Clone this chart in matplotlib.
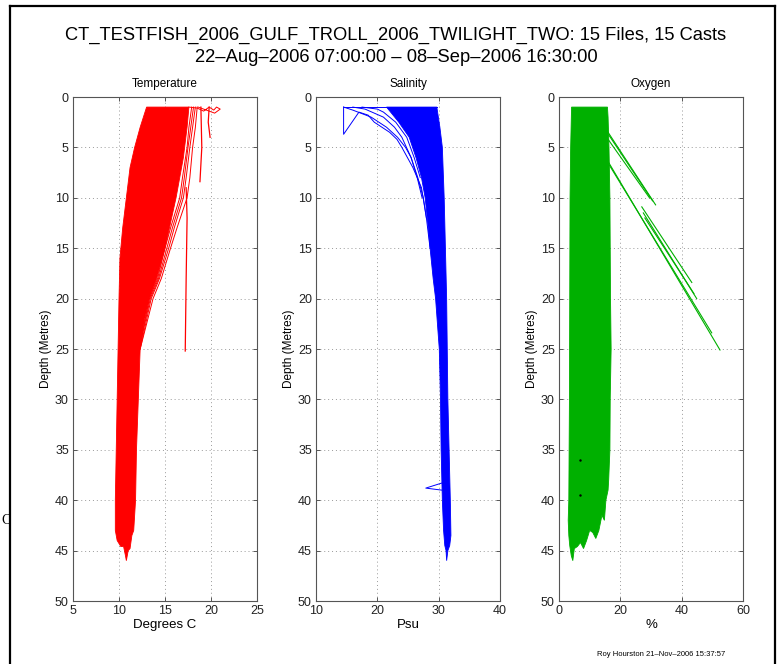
import matplotlib
matplotlib.use("Agg")
import matplotlib.pyplot as plt
from matplotlib.lines import Line2D

plt.rcParams['font.family'] = ['Liberation Sans', 'DejaVu Sans']

# ---- data ----
title1 = "CT_TESTFISH_2006_GULF_TROLL_2006_TWILIGHT_TWO: 15 Files, 15 Casts"
title2 = "22\u2013Aug\u20132006 07:00:00 \u2013 08\u2013Sep\u20132006 16:30:00"
footer = "Roy Hourston 21\u2013Nov\u20132006 15:37:57"
depth_ticks = [0, 5, 10, 15, 20, 25, 30, 35, 40, 45, 50]

# temperature: outline of the dense bundle (x = deg C, y = depth)
temp_core_x = [13.0, 12.3, 11.7, 11.2, 10.8, 10.4, 10.1, 10.0, 9.9, 9.8, 9.7, 9.6, 9.6, 9.8, 10.2,
               10.5, 10.7, 10.8, 11.0, 11.2, 11.4, 11.6, 11.8, 11.9, 12.1, 12.3, 12.8, 13.3,
               14.1, 15.0, 16.2, 17.0, 17.4, 17.6]
temp_core_y = [1.0, 3, 5, 7, 10, 13, 16, 20, 25, 30, 35, 40, 43, 44, 44.6,
               44.6, 45.5, 46.0, 45.0, 44.8, 43.5, 43.0, 40, 35, 30, 25, 22, 20,
               18, 15, 10, 6, 3, 1.0]
temp_strand_depth = [1, 3, 5, 8, 10, 13, 15, 18, 20, 25]
temp_strands = [
    [18.5, 18.3, 18.0, 17.7, 17.4, 16.3, 15.6, 14.6, 13.7, 12.3],
    [18.3, 18.0, 17.7, 17.3, 17.0, 16.0, 15.4, 14.4, 13.5, 12.3],
    [18.1, 17.8, 17.5, 17.1, 16.8, 15.8, 15.2, 14.3, 13.4, 12.2],
    [17.9, 17.6, 17.4, 16.9, 16.6, 15.6, 15.0, 14.2, 13.3, 12.2],
]
temp_top_x = [17.6, 18.5, 19.2, 19.8, 20.3, 20.6, 21.0, 20.4, 19.5, 18.6]
temp_top_y = [1.0, 1.1, 1.4, 1.0, 1.3, 1.0, 1.2, 1.6, 1.3, 1.0]
temp_spike_x = [[17.3, 17.4, 17.3, 17.2], [18.9, 19.0, 18.8], [19.8, 19.7, 19.9]]
temp_spike_y = [[9.0, 12.0, 18.0, 25.2], [1.0, 5.0, 8.4], [1.0, 2.5, 4.0]]

# salinity
sal_core_x = [21.5, 23.5, 25.2, 26.3, 27.2, 27.8, 28.3, 28.6, 29.1, 29.5, 30.1, 30.3, 30.4, 30.6,
              30.8, 31.0, 31.2, 31.3, 31.5, 31.8, 32.0, 31.9, 31.7, 31.5, 31.4, 31.3, 31.1,
              30.9, 30.6, 30.2, 29.7]
sal_core_y = [1.0, 2.5, 4, 6, 8, 10, 13, 15, 18, 20, 25, 30, 35, 40,
              43, 44.5, 45, 46, 45, 44.5, 43.5, 40, 35, 30, 25, 20, 15,
              10, 5, 3, 1.0]
sal_strands_x = [
    [14.5, 14.5, 17.0, 18.5, 19.5, 22.0, 23.2, 24.0, 25.8, 27.2, 28.0, 28.6],
    [14.5, 16.0, 19.0, 21.5, 23.3, 24.6, 25.5, 26.5, 27.3],
    [16.0, 18.0, 21.0, 22.8, 24.0, 25.5, 26.6, 27.5, 28.0],
    [17.5, 20.0, 21.0, 23.0, 24.8, 26.0, 27.0],
    [14.5, 29.7],
    [30.5, 27.9, 30.5],
]
sal_strands_y = [
    [1.0, 3.7, 1.5, 1.8, 2.5, 3.5, 4.2, 5.0, 7.0, 9.0, 12.0, 15.0],
    [1.0, 1.3, 2.0, 3.0, 4.0, 5.0, 6.0, 8.0, 10.0],
    [1.0, 1.2, 2.0, 3.0, 4.0, 6.0, 8.0, 10.0, 12.0],
    [1.0, 1.2, 1.5, 2.5, 4.0, 6.0, 8.0],
    [1.0, 1.0],
    [38.3, 38.8, 39.0],
]

# oxygen
oxy_core_x = [4.1, 3.8, 3.6, 3.5, 3.4, 3.2, 3.0, 3.2, 3.5, 4.0, 4.5, 5.0, 6.0, 7.0, 8.0, 9.0,
              10.0, 11.0, 12.0, 13.0, 14.0, 14.8, 15.3, 16.0, 16.2, 16.6, 16.7, 17.0, 16.8,
              16.6, 16.3, 16.0, 15.8]
oxy_core_y = [1.0, 5, 10, 20, 30, 40, 42, 43.5, 44.5, 45.5, 46.0, 44.8, 44.6, 44.2, 44.8, 44.0,
              43.0, 43.2, 43.8, 43.0, 41.5, 42.0, 40.0, 39.0, 38.0, 35.0, 30.0, 25.0, 20.0,
              10.0, 5.0, 2.0, 1.0]
oxy_seg_x0 = [16.0, 16.3, 16.0, 16.2, 16.5, 27.0, 27.5, 28.0]
oxy_seg_y0 = [3.5, 3.8, 4.2, 6.5, 6.8, 10.9, 11.5, 12.0]
oxy_seg_x1 = [31.5, 30.5, 29.5, 52.5, 49.8, 43.3, 44.9, 44.0]
oxy_seg_y1 = [10.7, 10.3, 10.0, 25.1, 23.4, 18.4, 20.0, 19.5]
oxy_dots_x = [7.0, 7.0]
oxy_dots_y = [36.0, 39.5]

red = '#ff0000'
blue = '#0000ff'
green = '#00b000'
grey = '#555555'

fig = plt.figure(figsize=(7.79, 6.64), dpi=100)

lefts = [73 / 779, 316 / 779, 559 / 779]
bottom = 1 - 601 / 664
width = 184 / 779
height = 504 / 664


def setup(ax, name, xlabel, xlim, xticks):
    ax.set_xlim(xlim)
    ax.set_ylim(50, 0)
    ax.set_xticks(xticks)
    ax.set_yticks(depth_ticks)
    ax.set_title(name, fontsize=8.5, pad=7)
    ax.set_xlabel(xlabel, fontsize=9.5, labelpad=1)
    ax.set_ylabel("Depth (Metres)", fontsize=8.5, labelpad=2)
    ax.grid(True, linestyle=(0, (1, 3)), color='#999999', linewidth=0.7)
    ax.tick_params(direction='in', length=3, width=0.7, labelsize=9, colors=grey,
                   labelcolor='#222222', top=True, right=True, pad=3)
    for s in ax.spines.values():
        s.set_color(grey)
        s.set_linewidth(0.8)
    ax.set_axisbelow(True)


# Temperature
ax1 = fig.add_axes([lefts[0], bottom, width, height])
ax1.fill(temp_core_x, temp_core_y, color=red, linewidth=0.6)
for tx in temp_strands:
    ax1.plot(tx, temp_strand_depth, color=red, linewidth=0.7)
ax1.plot(temp_top_x, temp_top_y, color=red, linewidth=0.7)
for sx, sy in zip(temp_spike_x, temp_spike_y):
    ax1.plot(sx, sy, color=red, linewidth=0.9)
setup(ax1, "Temperature", "Degrees C", (5, 25), [5, 10, 15, 20, 25])

# Salinity
ax2 = fig.add_axes([lefts[1], bottom, width, height])
ax2.fill(sal_core_x, sal_core_y, color=blue, linewidth=0.6)
for sx, sy in zip(sal_strands_x, sal_strands_y):
    ax2.plot(sx, sy, color=blue, linewidth=0.7)
setup(ax2, "Salinity", "Psu", (10, 40), [10, 20, 30, 40])

# Oxygen
ax3 = fig.add_axes([lefts[2], bottom, width, height])
ax3.fill(oxy_core_x, oxy_core_y, color=green, linewidth=0.6)
for x0, y0, x1, y1 in zip(oxy_seg_x0, oxy_seg_y0, oxy_seg_x1, oxy_seg_y1):
    ax3.plot([x0, x1], [y0, y1], color=green, linewidth=0.8)
ax3.plot(oxy_dots_x, oxy_dots_y, 'k.', markersize=1.5)
setup(ax3, "Oxygen", "%", (0, 60), [0, 20, 40, 60])

fig.text(396 / 779, 1 - 35 / 664, title1, ha='center', va='center', fontsize=13.2)
fig.text(396 / 779, 1 - 57 / 664, title2, ha='center', va='center', fontsize=13.2)
fig.text(661 / 779, 1 - 654 / 664, footer, ha='center', va='center', fontsize=5.5)
fig.text(1 / 779, 1 - 520 / 664, "C", ha='left', va='center', fontsize=10,
         family=['Liberation Serif', 'DejaVu Serif'])

# page frame (left, top, right)
fig.add_artist(Line2D([10 / 779, 10 / 779], [0, 1 - 6 / 664], color='black', linewidth=1.6))
fig.add_artist(Line2D([10 / 779, 775 / 779], [1 - 6 / 664, 1 - 6 / 664], color='black', linewidth=1.6))
fig.add_artist(Line2D([775 / 779, 775 / 779], [0, 1 - 6 / 664], color='black', linewidth=1.6))

fig.savefig("out.png", dpi=100)
